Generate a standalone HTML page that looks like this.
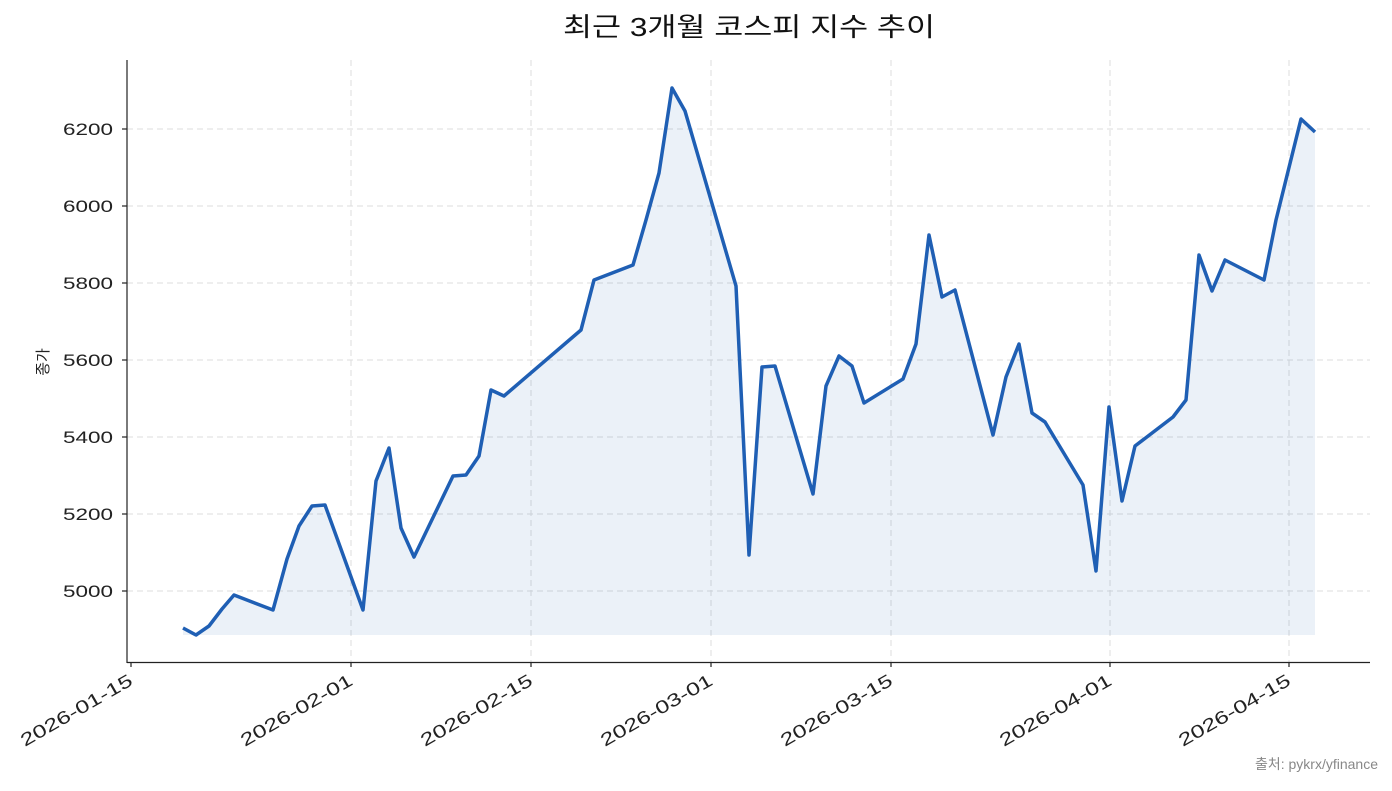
<!DOCTYPE html>
<html><head><meta charset="utf-8"><style>
html,body{margin:0;padding:0;background:#fff;}
svg text{font-family:"Liberation Sans","Noto Sans CJK KR",sans-serif;}
</style></head><body>
<svg width="1392" height="786" viewBox="0 0 1392 786" xmlns="http://www.w3.org/2000/svg">
<rect width="1392" height="786" fill="#fff"/>
<text x="749" y="36" font-size="26" text-anchor="middle" fill="#111" textLength="372" lengthAdjust="spacingAndGlyphs">최근 3개월 코스피 지수 추이</text>
<g stroke="#dcdcdc" stroke-dasharray="6,4" stroke-width="1">
<line x1="127" x2="1370" y1="129" y2="129"/><line x1="127" x2="1370" y1="206" y2="206"/>
<line x1="127" x2="1370" y1="283" y2="283"/><line x1="127" x2="1370" y1="360" y2="360"/>
<line x1="127" x2="1370" y1="437" y2="437"/><line x1="127" x2="1370" y1="514" y2="514"/>
<line x1="127" x2="1370" y1="591" y2="591"/>
<line x1="351" x2="351" y1="60" y2="662"/><line x1="531" x2="531" y1="60" y2="662"/>
<line x1="711" x2="711" y1="60" y2="662"/><line x1="891" x2="891" y1="60" y2="662"/>
<line x1="1110" x2="1110" y1="60" y2="662"/><line x1="1289" x2="1289" y1="60" y2="662"/>
</g>
<polygon fill="#1f5fb4" fill-opacity="0.09" points="183,628 196,635 209,626 222,609 234,595 273,610 287,559 299,526 312,506 325,505 363,610 376,481 389,448 401,528 414,557 453,476 466,475 479,456 491,390 504,396 581,330 594,280 633,265 646,220 659,173 672,88 685,111 736,286 749,555 762,367 775,366 813,494 826,386 839,356 852,366 864,403 903,379 916,344 929,235 942,297 955,290 993,435 1006,377 1019,344 1032,413 1045,422 1083,485 1096,571 1109,407 1122,501 1135,446 1173,417 1186,400 1199,255 1212,291 1225,260 1264,280 1276,220 1301,119 1315,132 1315,635 183,635"/>
<polyline fill="none" stroke="#1f5fb4" stroke-width="3.5" stroke-linejoin="round" points="183,628 196,635 209,626 222,609 234,595 273,610 287,559 299,526 312,506 325,505 363,610 376,481 389,448 401,528 414,557 453,476 466,475 479,456 491,390 504,396 581,330 594,280 633,265 646,220 659,173 672,88 685,111 736,286 749,555 762,367 775,366 813,494 826,386 839,356 852,366 864,403 903,379 916,344 929,235 942,297 955,290 993,435 1006,377 1019,344 1032,413 1045,422 1083,485 1096,571 1109,407 1122,501 1135,446 1173,417 1186,400 1199,255 1212,291 1225,260 1264,280 1276,220 1301,119 1315,132"/>
<g stroke="#222" stroke-width="1.2">
<line x1="127" x2="127" y1="60" y2="663"/><line x1="127" x2="1370" y1="662.5" y2="662.5"/>
<line x1="122" x2="127" y1="129" y2="129"/><line x1="122" x2="127" y1="206" y2="206"/>
<line x1="122" x2="127" y1="283" y2="283"/><line x1="122" x2="127" y1="360" y2="360"/>
<line x1="122" x2="127" y1="437" y2="437"/><line x1="122" x2="127" y1="514" y2="514"/>
<line x1="122" x2="127" y1="591" y2="591"/>
<line x1="131" x2="131" y1="662" y2="667"/><line x1="351" x2="351" y1="662" y2="667"/>
<line x1="531" x2="531" y1="662" y2="667"/><line x1="711" x2="711" y1="662" y2="667"/>
<line x1="891" x2="891" y1="662" y2="667"/><line x1="1110" x2="1110" y1="662" y2="667"/>
<line x1="1289" x2="1289" y1="662" y2="667"/>
</g>
<g font-size="17" fill="#222" text-anchor="end">
<text x="113" y="135" textLength="50" lengthAdjust="spacingAndGlyphs">6200</text><text x="113" y="212" textLength="50" lengthAdjust="spacingAndGlyphs">6000</text><text x="113" y="289" textLength="50" lengthAdjust="spacingAndGlyphs">5800</text>
<text x="113" y="366" textLength="50" lengthAdjust="spacingAndGlyphs">5600</text><text x="113" y="443" textLength="50" lengthAdjust="spacingAndGlyphs">5400</text><text x="113" y="520" textLength="50" lengthAdjust="spacingAndGlyphs">5200</text>
<text x="113" y="597" textLength="50" lengthAdjust="spacingAndGlyphs">5000</text>
</g>
<text transform="translate(48,362) rotate(-90)" font-size="15" text-anchor="middle" fill="#222">종가</text>
<g font-size="18" fill="#222" text-anchor="end">
<text transform="translate(134,684) rotate(-30)" textLength="126" lengthAdjust="spacingAndGlyphs">2026-01-15</text>
<text transform="translate(354,684) rotate(-30)" textLength="126" lengthAdjust="spacingAndGlyphs">2026-02-01</text>
<text transform="translate(534,684) rotate(-30)" textLength="126" lengthAdjust="spacingAndGlyphs">2026-02-15</text>
<text transform="translate(714,684) rotate(-30)" textLength="126" lengthAdjust="spacingAndGlyphs">2026-03-01</text>
<text transform="translate(894,684) rotate(-30)" textLength="126" lengthAdjust="spacingAndGlyphs">2026-03-15</text>
<text transform="translate(1113,684) rotate(-30)" textLength="126" lengthAdjust="spacingAndGlyphs">2026-04-01</text>
<text transform="translate(1292,684) rotate(-30)" textLength="126" lengthAdjust="spacingAndGlyphs">2026-04-15</text>
</g>
<text x="1378" y="769" font-size="14" text-anchor="end" fill="#888">출처: pykrx/yfinance</text>
</svg>
</body></html>
